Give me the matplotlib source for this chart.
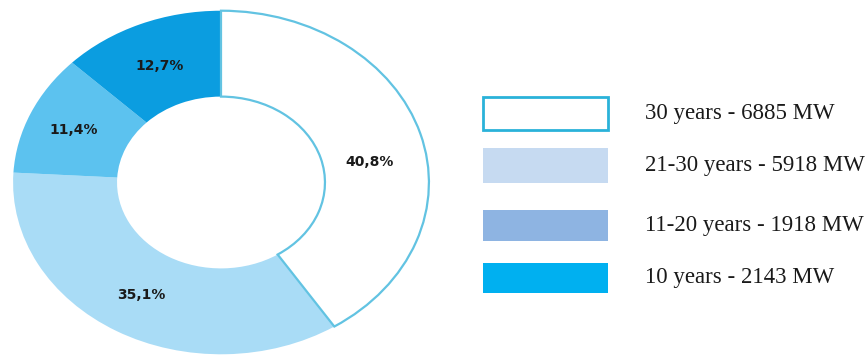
import matplotlib
matplotlib.use("Agg")
import matplotlib.pyplot as plt
from matplotlib.patches import Rectangle
import numpy as np

# ---- data ----
categories = ["30 years", "21-30 years", "11-20 years", "10 years"]
capacity_mw = [6885, 5918, 1918, 2143]
pct_labels = ["40,8%", "35,1%", "11,4%", "12,7%"]
legend_labels = ["30 years - 6885 MW", "21-30 years - 5918 MW",
                 "11-20 years - 1918 MW", "10 years - 2143 MW"]

# ---- styles ----
wedge_colors = ["#ffffff", "#a9dcf6", "#5cc2ef", "#0b9de0"]
legend_colors = ["#ffffff", "#c6daf1", "#8eb4e2", "#00b0f0"]
W, H = 868, 358

fig = plt.figure(figsize=(W / 100, H / 100), dpi=100)
fig.patch.set_facecolor("white")

# donut axes (elliptical)
cx0, cx1 = 11, 431
cy_top, cy_bot = 9, 356
ax = fig.add_axes([cx0 / W, (H - cy_bot) / H, (cx1 - cx0) / W, (cy_bot - cy_top) / H])
wedges, _ = ax.pie(capacity_mw, colors=wedge_colors, startangle=90, counterclock=False,
                   radius=1.0, wedgeprops=dict(width=0.5, linewidth=0))
wedges[0].set_edgecolor("#62c3e2")
wedges[0].set_linewidth(1.6)
wedges[0].set_zorder(3)
ax.set_aspect("auto")
ax.set_xlim(-1.01, 1.01)
ax.set_ylim(-1.01, 1.01)
ax.axis("off")

offsets = [(-0.015, -0.095), (0, 0), (-0.015, 0), (0, -0.02)]
for w, lab, off in zip(wedges, pct_labels, offsets):
    ang = np.deg2rad((w.theta1 + w.theta2) / 2)
    r = 0.76
    ax.text(r * np.cos(ang) + off[0], r * np.sin(ang) + off[1], lab,
            ha="center", va="center", fontsize=10, fontweight="bold",
            color="#1a1a1a", family="DejaVu Sans", zorder=5)

# legend drawn manually
box_x0, box_x1 = 483, 608
box_rows = [(97, 130), (148, 183), (210, 241), (263, 293)]
for (y0, y1), col, lab, i in zip(box_rows, legend_colors, legend_labels, range(4)):
    ec = "#2ab2d9" if i == 0 else col
    lw = 2.0 if i == 0 else 0
    rect = Rectangle((box_x0 / W, (H - y1) / H), (box_x1 - box_x0) / W, (y1 - y0) / H,
                     transform=fig.transFigure, facecolor=col, edgecolor=ec, linewidth=lw)
    fig.add_artist(rect)
    fig.text(645 / W, (H - (y0 + y1) / 2) / H, lab, ha="left", va="center",
             fontsize=16.5, family="Liberation Serif", color="#1a1a1a")

fig.savefig("out.png", dpi=100, facecolor="white")
